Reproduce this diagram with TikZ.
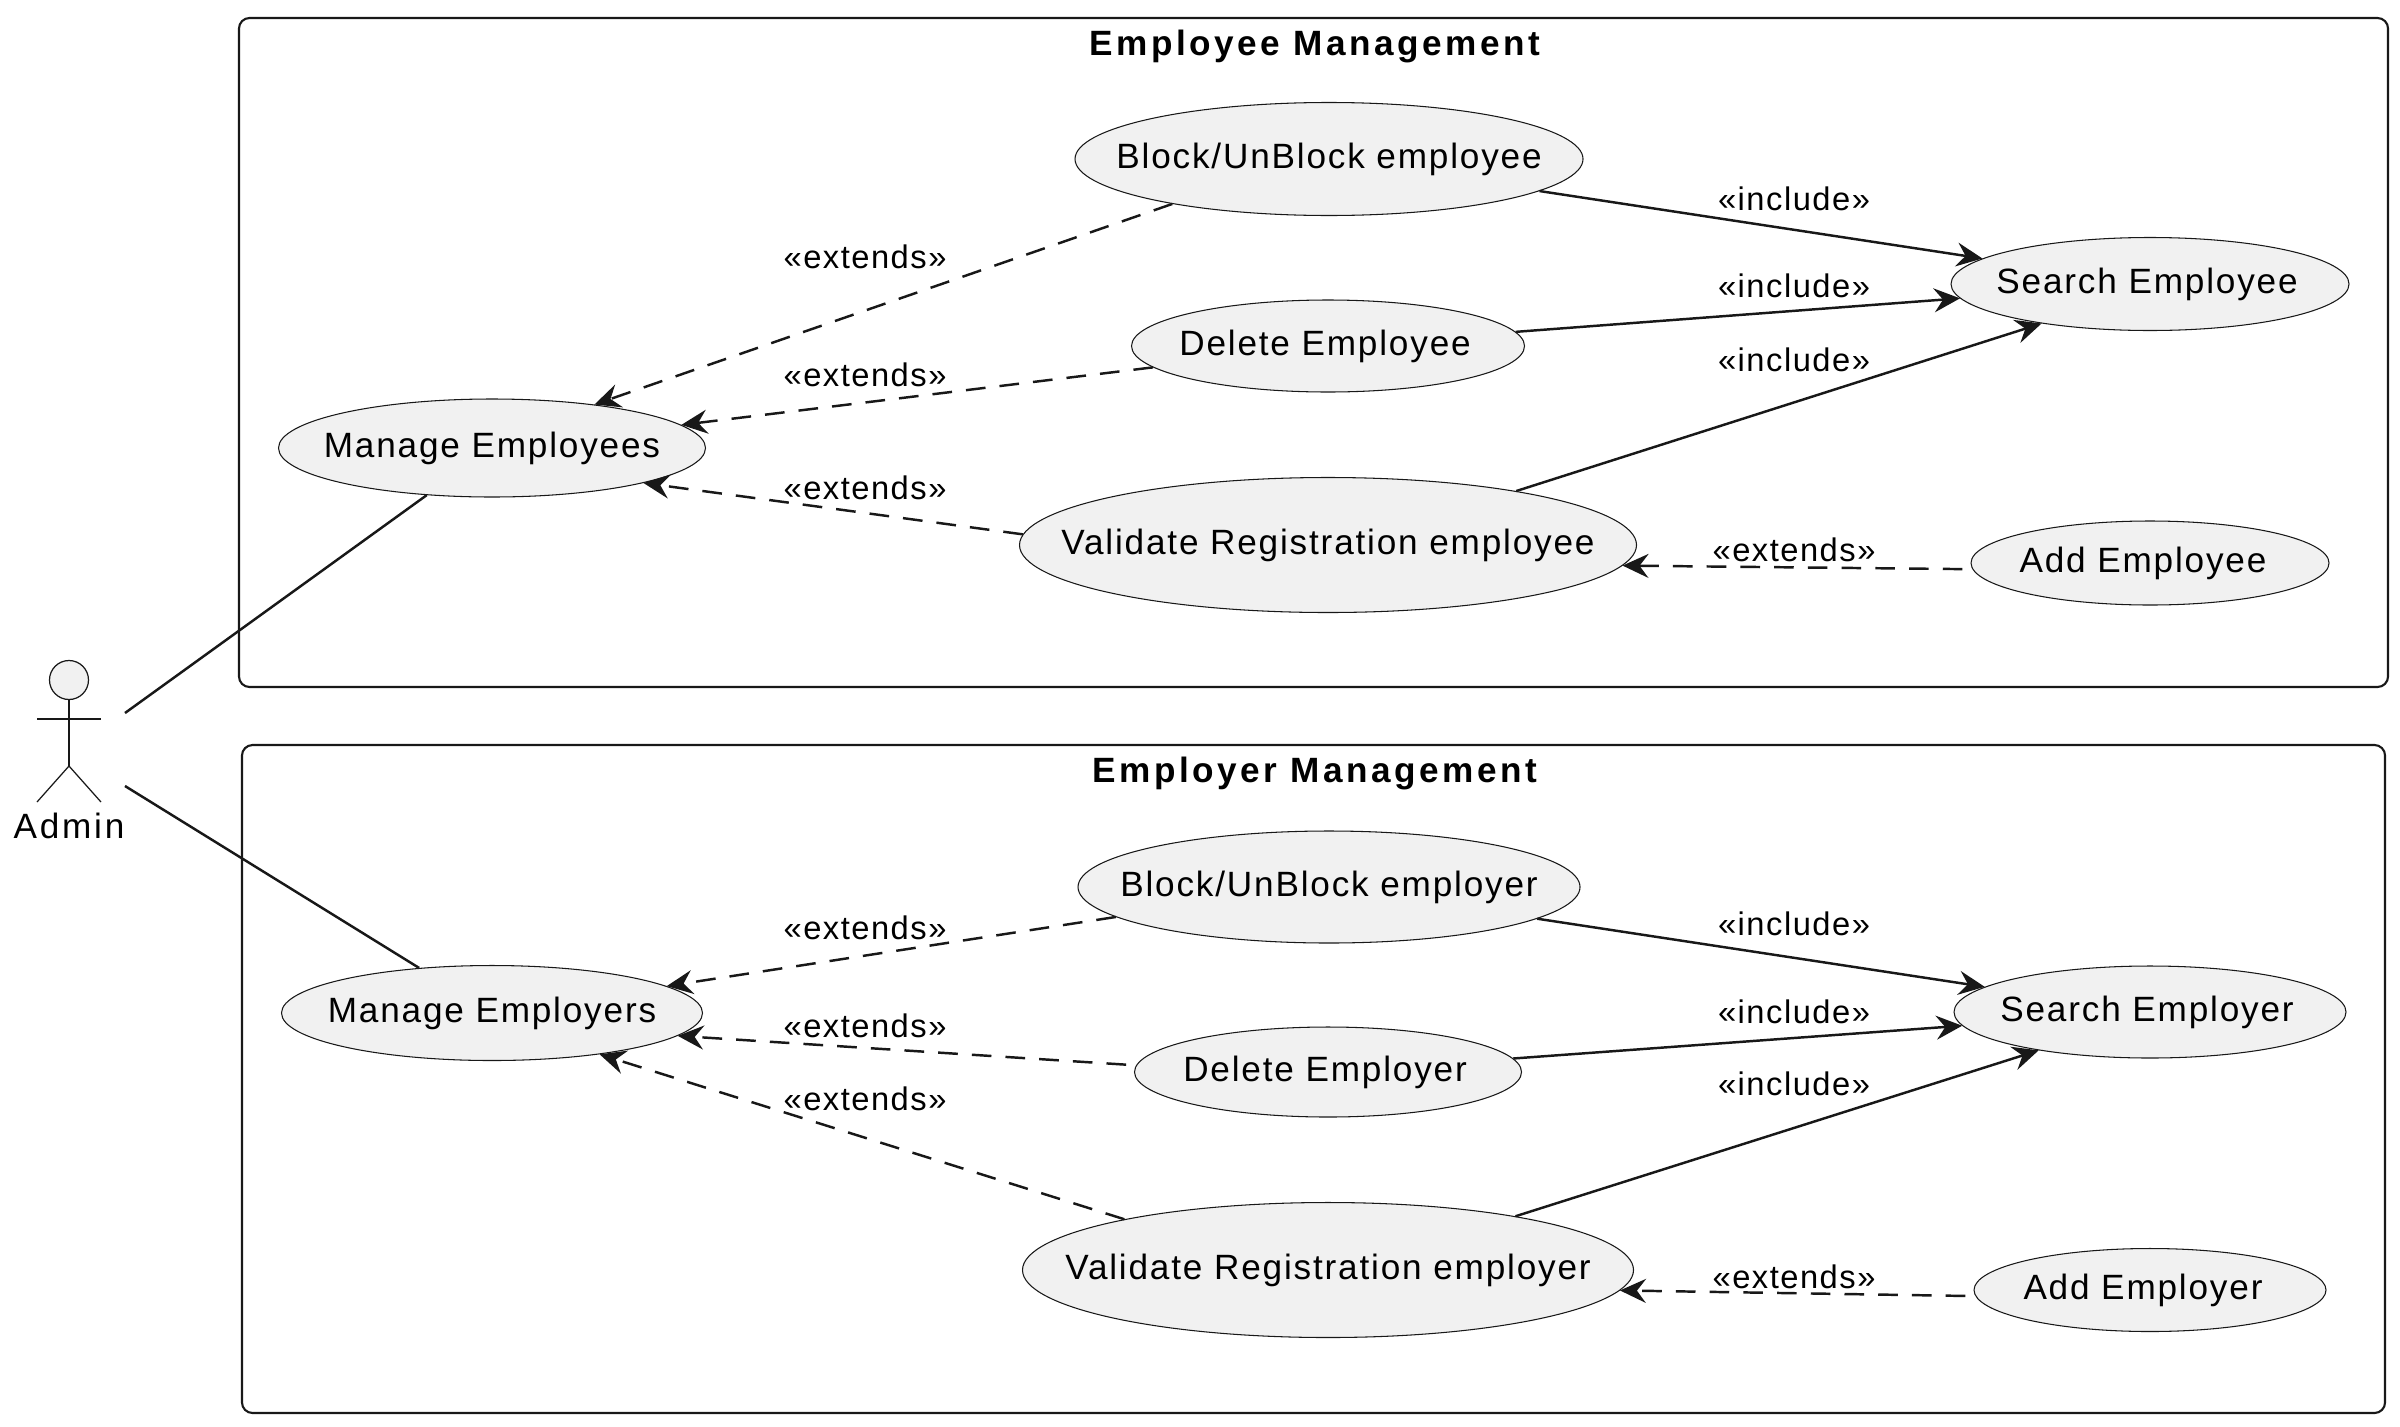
\documentclass[tikz,border=0pt]{standalone}
\usepackage{fontspec}
\setmainfont[LetterSpace=5.2]{Liberation Sans}
\usetikzlibrary{arrows.meta,positioning,shapes.geometric}
\definecolor{umlfill}{HTML}{F1F1F1}
\definecolor{umlline}{HTML}{181818}
\newcommand{\uctext}[2][0pt]{\makebox[0pt]{#2\hspace{#1}}}

\begin{document}
\begin{tikzpicture}[
  x=1cm,y=1cm,
  usecase/.style={draw=umlline, ellipse, fill=umlfill, line width=0.3pt, inner sep=0pt, font=\fontsize{10}{12}\selectfont},
  pack/.style={draw=umlline, rounded corners=3pt, line width=0.6pt},
  packtitle/.style={font=\fontsize{10}{12}\selectfont\bfseries\addfontfeature{LetterSpace=10}, inner sep=0pt},
  tag/.style={font=\fontsize{9.3}{11}\selectfont\addfontfeature{LetterSpace=4.6}, inner sep=0pt},
  stick/.style={draw=umlline, line width=0.35pt},
  assoc/.style={draw=umlline, line width=0.7pt},
  incl/.style={draw=umlline, line width=0.7pt, -{Stealth[length=2.6mm, width=2.4mm, inset=0.9mm]}},
  ext/.style={draw=umlline, line width=0.7pt, dash pattern=on 5.6pt off 4pt, -{Stealth[length=2.6mm, width=2.4mm, inset=0.9mm]}}
]
\useasboundingbox (0,0) rectangle (24,-14.26);

\draw[pack] (2.39,-0.18) rectangle (23.88,-6.87);
\draw[pack] (2.42,-7.45) rectangle (23.85,-14.13);
\node[packtitle] (titleEmployee) at (13.15,-0.46) {Employee Management};
\node[packtitle] (titleEmployer) at (13.15,-7.73) {Employer Management};

\node[usecase, minimum width=4.27cm, minimum height=0.98cm] (manageEmployees) at (4.92,-4.48) {\uctext{Manage Employees}};
\node[usecase, minimum width=5.08cm, minimum height=1.13cm] (blockEmployee) at (13.29,-1.59) {\uctext{Block/UnBlock employee}};
\node[usecase, minimum width=3.93cm, minimum height=0.92cm] (deleteEmployee) at (13.28,-3.46) {\uctext[1.7pt]{Delete Employee}};
\node[usecase, minimum width=6.17cm, minimum height=1.35cm] (validateEmployee) at (13.28,-5.45) {\uctext{Validate Registration employee}};
\node[usecase, minimum width=3.98cm, minimum height=0.93cm] (searchEmployee) at (21.50,-2.84) {\uctext[1.7pt]{Search Employee}};
\node[usecase, minimum width=3.58cm, minimum height=0.84cm] (addEmployee) at (21.50,-5.63) {\uctext[4pt]{Add Employee}};

\node[usecase, minimum width=4.21cm, minimum height=0.95cm] (manageEmployers) at (4.92,-10.13) {\uctext{Manage Employers}};
\node[usecase, minimum width=5.02cm, minimum height=1.12cm] (blockEmployer) at (13.29,-8.87) {\uctext{Block/UnBlock employer}};
\node[usecase, minimum width=3.87cm, minimum height=0.90cm] (deleteEmployer) at (13.28,-10.72) {\uctext[1.7pt]{Delete Employer}};
\node[usecase, minimum width=6.11cm, minimum height=1.35cm] (validateEmployer) at (13.28,-12.70) {\uctext{Validate Registration employer}};
\node[usecase, minimum width=3.92cm, minimum height=0.92cm] (searchEmployer) at (21.50,-10.12) {\uctext[1.7pt]{Search Employer}};
\node[usecase, minimum width=3.52cm, minimum height=0.83cm] (addEmployer) at (21.50,-12.90) {\uctext[4pt]{Add Employer}};

\node[circle, stick, fill=umlfill, minimum size=0.39cm, inner sep=0pt] (adminHead) at (0.69,-6.80) {};
\coordinate (adminHip) at (0.69,-7.66);
\coordinate (adminArmL) at (0.37,-7.19);
\coordinate (adminArmR) at (1.01,-7.19);
\coordinate (adminLegL) at (0.37,-8.02);
\coordinate (adminLegR) at (1.01,-8.02);
\coordinate (adminOutA) at (1.25,-7.13);
\coordinate (adminOutB) at (1.25,-7.86);
\node[font=\fontsize{10}{12}\selectfont\addfontfeature{LetterSpace=8}, inner sep=0pt] (adminName) at (0.69,-8.26) {Admin};
\draw[stick] (adminHead) -- (adminHip);
\draw[stick] (adminArmL) -- (adminArmR);
\draw[stick] (adminLegL) -- (adminHip) -- (adminLegR);

\draw[assoc] (adminOutA) -- (manageEmployees);
\draw[assoc] (adminOutB) -- (manageEmployers);

\draw[ext] (blockEmployee.196) -- (manageEmployees.23);
\draw[ext] (deleteEmployee) -- (manageEmployees);
\draw[ext] (validateEmployee.178) -- (manageEmployees.-13);
\draw[ext, shorten <=1mm] (addEmployee.182) -- (validateEmployee.-4);
\draw[incl] (blockEmployee) -- (searchEmployee);
\draw[incl] (deleteEmployee) -- (searchEmployee);
\draw[incl] (validateEmployee.16.5) -- (searchEmployee.200);

\draw[ext] (blockEmployer.188) -- (manageEmployers);
\draw[ext, shorten <=1mm] (deleteEmployer.178) -- (manageEmployers.-7);
\draw[ext] (validateEmployer.166) -- (manageEmployers.-21);
\draw[ext, shorten <=1mm] (addEmployer.182) -- (validateEmployer.-4);
\draw[incl] (blockEmployer) -- (searchEmployer);
\draw[incl] (deleteEmployer) -- (searchEmployer);
\draw[incl] (validateEmployer.16) -- (searchEmployer.199.5);

\node[tag] (extA) at (8.65,-2.57) {«extends»};
\node[tag] (extB) at (8.65,-3.75) {«extends»};
\node[tag] (extC) at (8.65,-4.88) {«extends»};
\node[tag] (extD) at (17.94,-5.50) {«extends»};
\node[tag] (inclA) at (17.94,-1.99) {«include»};
\node[tag] (inclB) at (17.94,-2.86) {«include»};
\node[tag] (inclC) at (17.94,-3.60) {«include»};

\node[tag] (extE) at (8.65,-9.28) {«extends»};
\node[tag] (extF) at (8.65,-10.26) {«extends»};
\node[tag] (extG) at (8.65,-10.99) {«extends»};
\node[tag] (extH) at (17.94,-12.77) {«extends»};
\node[tag] (inclD) at (17.94,-9.24) {«include»};
\node[tag] (inclE) at (17.94,-10.12) {«include»};
\node[tag] (inclF) at (17.94,-10.84) {«include»};
\end{tikzpicture}
\end{document}
